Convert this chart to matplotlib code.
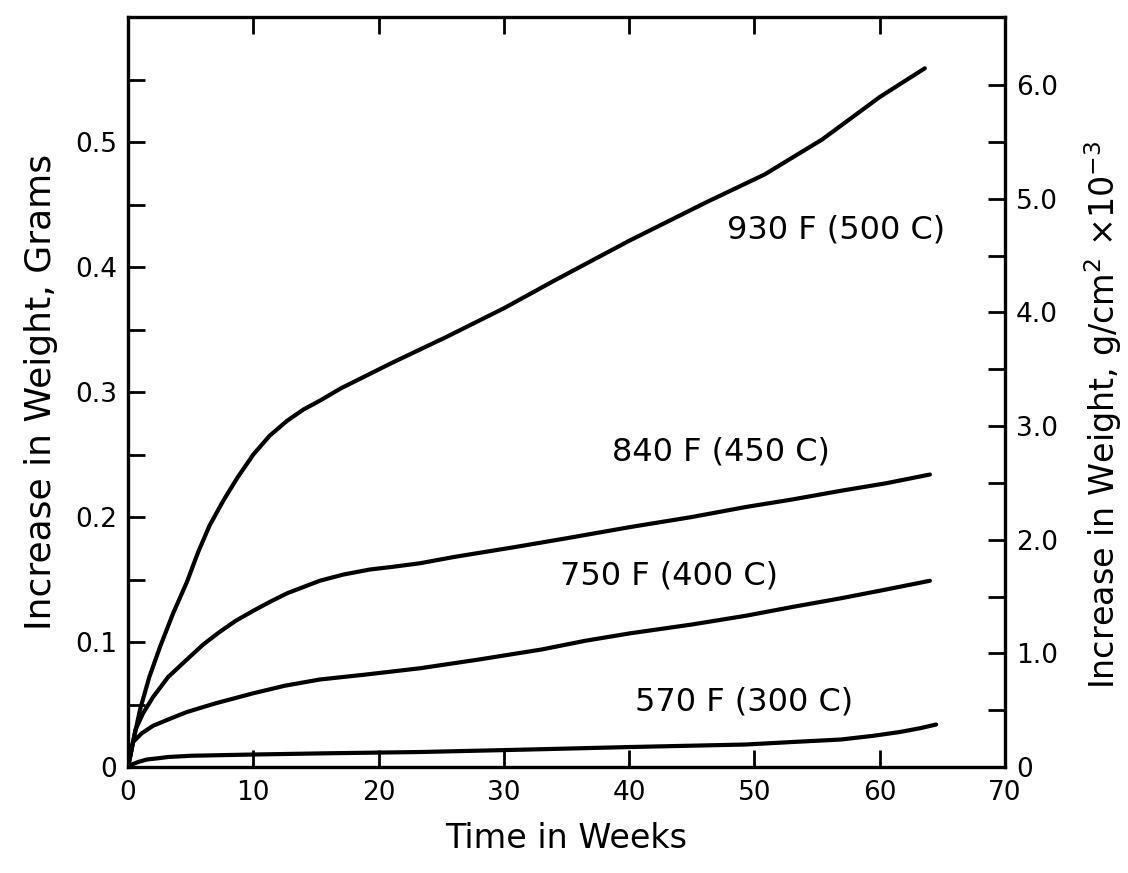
import matplotlib.pyplot as plt
from matplotlib.ticker import MultipleLocator, FixedLocator

# Weight gain curves (weeks, grams)
weeks_930 = [0, 0.4, 0.96, 1.7, 2.55, 3.6, 4.7, 5.6, 6.5, 7.6, 8.7, 10, 11.3,
             12.7, 14, 15.3, 17, 19, 21, 23.3, 25.4, 30, 34, 40, 46.2, 50.8,
             55.4, 60, 63.6]
gain_930 = [0, 0.020, 0.046, 0.072, 0.096, 0.123, 0.148, 0.172, 0.193, 0.213,
            0.231, 0.250, 0.265, 0.277, 0.286, 0.293, 0.303, 0.313, 0.323,
            0.334, 0.344, 0.367, 0.389, 0.421, 0.452, 0.474, 0.502, 0.536,
            0.559]

weeks_840 = [0, 0.6, 1.2, 2, 3.2, 4.7, 6, 7.3, 8.6, 10, 11.3, 12.7, 14,
             15.3, 17.2, 19.3, 21, 23.3, 26, 30.9, 35, 40.1, 45, 49.3, 53,
             56.9, 60.5, 64]
gain_840 = [0, 0.030, 0.043, 0.056, 0.072, 0.086, 0.098, 0.108, 0.117, 0.125,
            0.132, 0.139, 0.144, 0.149, 0.154, 0.158, 0.160, 0.163, 0.168,
            0.176, 0.183, 0.192, 0.200, 0.208, 0.214, 0.221, 0.227, 0.234]

weeks_750 = [0, 0.4, 1.1, 2, 3.2, 4.7, 7, 10, 12.5, 15.3, 19, 23.3, 28, 33,
             36.5, 40.1, 45, 49.3, 53, 56.9, 60.5, 64]
gain_750 = [0, 0.020, 0.027, 0.033, 0.038, 0.044, 0.051, 0.059, 0.065, 0.070,
            0.074, 0.079, 0.086, 0.094, 0.101, 0.107, 0.114, 0.121, 0.128,
            0.135, 0.142, 0.149]

weeks_570 = [0, 0.3, 0.8, 1.5, 2.4, 3.2, 5, 10, 16, 23.3, 32, 40.1, 49.3,
             53, 56.9, 59.5, 61.6, 63.2, 64.5]
gain_570 = [0, 0.002, 0.004, 0.006, 0.007, 0.008, 0.009, 0.010, 0.011, 0.012,
            0.014, 0.016, 0.018, 0.020, 0.022, 0.025, 0.028, 0.031, 0.034]

curve_labels = ["930 F (500 C)", "840 F (450 C)", "750 F (400 C)", "570 F (300 C)"]
label_pos = [(47.8, 0.43), (38.6, 0.252), (34.5, 0.153), (40.5, 0.052)]

left_ticks = [0, 0.1, 0.2, 0.3, 0.4, 0.5]
left_ticklabels = ["0", "0.1", "0.2", "0.3", "0.4", "0.5"]
right_ticks = [0, 1, 2, 3, 4, 5, 6]
right_ticklabels = ["0", "1.0", "2.0", "3.0", "4.0", "5.0", "6.0"]
right_minor = [0.5, 1.5, 2.5, 3.5, 4.5, 5.5]
x_ticks = [0, 10, 20, 30, 40, 50, 60, 70]

plt.rcParams['font.family'] = ['DejaVu Sans']

fig = plt.figure(figsize=(11.28, 8.73), dpi=100)
ax = fig.add_axes([0.1135, 0.1214, 0.7775, 0.8591])

for w, g in [(weeks_930, gain_930), (weeks_840, gain_840),
             (weeks_750, gain_750), (weeks_570, gain_570)]:
    ax.plot(w, g, color='black', lw=3.0, solid_capstyle='round',
            solid_joinstyle='round')

for text, (x, y) in zip(curve_labels, label_pos):
    ax.text(x, y, text, fontsize=23, va='center', ha='left')

ax.set_xlim(0, 70)
ax.set_ylim(0, 0.6)
ax.set_xticks(x_ticks)
ax.set_yticks(left_ticks)
ax.set_yticklabels(left_ticklabels)
ax.yaxis.set_minor_locator(MultipleLocator(0.05))
ax.tick_params(axis='both', which='both', direction='in', length=12, width=2,
               labelsize=19, top=True)
ax.tick_params(axis='x', pad=9)
ax.tick_params(axis='y', pad=8)
for s in ax.spines.values():
    s.set_linewidth(2.4)

ax.set_xlabel("Time in Weeks", fontsize=24, labelpad=12)
ax.set_ylabel("Increase in Weight, Grams", fontsize=26, labelpad=12)

ax2 = ax.twinx()
ax2.set_ylim(0, 6.6)
ax2.yaxis.set_major_locator(FixedLocator(right_ticks))
ax2.set_yticklabels(right_ticklabels)
ax2.yaxis.set_minor_locator(FixedLocator(right_minor))
ax2.tick_params(axis='y', which='both', direction='in', length=12, width=2,
                labelsize=19, pad=8)
ax2.set_ylabel("Increase in Weight, g/cm$^2$ \u00d710$^{-3}$", fontsize=24)
ax2.yaxis.set_label_coords(1.088, 0.47)

fig.savefig("out.png", dpi=100)
